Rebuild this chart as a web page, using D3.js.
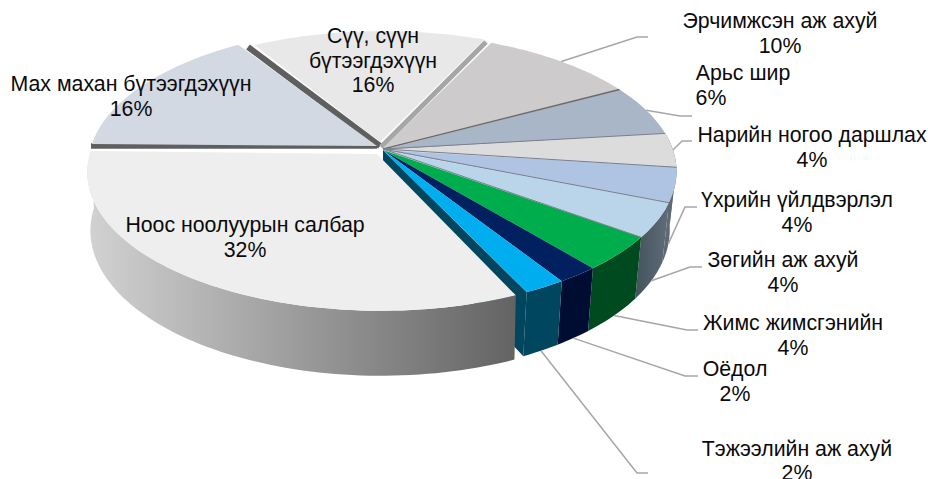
<!DOCTYPE html>
<html>
<head>
<meta charset="utf-8">
<script src="https://cdn.jsdelivr.net/npm/d3@7"></script>
<style>
  html, body { margin: 0; background: #fff; }
  svg { display: block; }
  text { font-family: "Liberation Sans", Arial, sans-serif; font-size: 21.3px; fill: #0a0a0a; }
</style>
</head>
<body>
<div id="chart"></div>
<script>
// slices clockwise, starting with the big wool slice
const categories = ["Ноос ноолуурын салбар", "Мах махан бүтээгдэхүүн", "Сүү, сүүн бүтээгдэхүүн",
  "Эрчимжсэн аж ахуй", "Арьс шир", "Нарийн ногоо даршлах", "Үхрийн үйлдвэрлэл",
  "Зөгийн аж ахуй", "Жимс жимсгэнийн", "Оёдол", "Тэжээлийн аж ахуй"];
const values = [32, 16, 16, 10, 6, 4, 4, 4, 4, 2, 2];

const topColors = ["#eeeeee", "#d2d9e3", "#e8e8e8", "#cdcbcb", "#a9b6c8", "#dcdcdc", "#afc3e2", "#bad5ea", "#00ad4d", "#00205f", "#00aeef"];
const wallColors = ["url(#woolWall)", "#555", "#555", "#555", "#555", "#5d6a76", "#5d6a76", "url(#beeWall)", "#004a20", "#000d33", "#00465f"];

// exploded slices: [rim dx, rim dy, apex dx, apex dy, trim at start deg, trim at end deg]
const explode = [
  [-2, 1, -6, 4, 1.7, 0],
  [-1, -6, -6, -4, 0, 1.6],
  [0, -2, -3, -8, 2.2, 1.7],
  [0, 0, 0, -2, 0, 0],
  [0, 0, 0, 0, 0, 0], [0, 0, 0, 0, 0, 0], [0, 0, 0, 0, 0, 0], [0, 0, 0, 0, 0, 0],
  [0, 0, 0, 0, 0, 0], [0, 0, 0, 0, 0, 0], [0, 0, 0, 0, 0, 0]
];

// label text lines, anchor x, first baseline
const labelLines = [
  ["Ноос ноолуурын салбар", "32%"], ["Мах махан бүтээгдэхүүн", "16%"], ["Сүү, сүүн", "бүтээгдэхүүн", "16%"],
  ["Эрчимжсэн аж ахуй", "10%"], ["Арьс шир", "6%"], ["Нарийн ногоо даршлах", "4%"], ["Үхрийн үйлдвэрлэл", "4%"],
  ["Зөгийн аж ахуй", "4%"], ["Жимс жимсгэнийн", "4%"], ["Оёдол", "2%"], ["Тэжээлийн аж ахуй", "2%"]
];
const labelX = [245, 131, 373, 780, 743, 812, 797, 783, 793, 735, 797];
const labelY = [232, 91, 43, 28, 80, 142, 207, 267, 330, 376, 455.5];
const elbows = [null, null, null, [[637, 37], [648, 37]], [[680, 116], [692, 116]], [[682, 141], [692, 141]],
  [[685, 207], [697, 207]], [[690, 267], [702, 267]], [[687, 330], [698, 330]], [[685, 376], [698, 376]], [[637, 473], [648, 473]]];

const width = 928, height = 479;
const cx = 383, cy = 150, rx = 290, ry = 135, persp = 0.155;

const svg = d3.select("#chart").append("svg")
    .attr("width", width)
    .attr("height", height);

const defs = svg.append("defs");
function gradient(id, x1, x2, c1, c2) {
  const g = defs.append("linearGradient").attr("id", id)
      .attr("gradientUnits", "userSpaceOnUse")
      .attr("x1", x1).attr("x2", x2).attr("y1", 0).attr("y2", 0);
  g.append("stop").attr("offset", 0).attr("stop-color", c1);
  g.append("stop").attr("offset", 1).attr("stop-color", c2);
}
gradient("woolWall", 87, 517, "#d2d2d2", "#636363");
gradient("beeWall", 637, 668, "#46545e", "#5f6c78");

// angle in radians clockwise from the top -> screen offset from centre, with perspective
function rim(a) {
  const u = Math.sin(a), v = -Math.cos(a);
  const s = 1 / (1 - persp * v);
  return [rx * u * s, ry * v * s];
}
function bottomOf(p, k = 0.977) {
  return [p[0] * k, p[1] * 1.05 + 57];
}

const pie = d3.pie().sort(null).value(d => d)
    .startAngle(154.8 * Math.PI / 180)
    .endAngle((154.8 + 360) * Math.PI / 180);
const arcs = pie(values);

const line = d3.line();

function rimPoints(d, i) {
  const e = explode[i];
  const a0 = d.startAngle + e[4] * Math.PI / 180, a1 = d.endAngle - e[5] * Math.PI / 180;
  const steps = Math.max(4, Math.ceil((a1 - a0) * 40));
  return d3.range(steps + 1).map(k => rim(a0 + (a1 - a0) * k / steps));
}

const pie3d = svg.append("g");

// cut face of the feed slice, seen because the wool slice is pulled away
const feedStart = rim(arcs[10].endAngle);
const feedBottom = bottomOf(feedStart);
pie3d.append("path")
    .attr("d", line([[cx, cy], [cx + feedStart[0], cy + feedStart[1]], [cx + feedBottom[0], cy + feedBottom[1]], [cx, cy + 57]]) + "Z")
    .attr("fill", wallColors[10]);

// outer walls, only the front ones can be seen
const wallOrder = [5, 6, 7, 8, 9, 10, 0];
wallOrder.forEach(i => {
  const e = explode[i];
  const k = i === 0 ? 0.99 : 0.977;
  const pts = rimPoints(arcs[i], i);
  const top = pts.map(p => [cx + e[0] + p[0], cy + e[1] + p[1]]);
  const bot = pts.map(p => { const b = bottomOf(p, k); return [cx + e[0] + b[0], cy + e[1] + b[1]]; }).reverse();
  pie3d.append("path")
      .attr("d", line(top.concat(bot)) + "Z")
      .attr("fill", wallColors[i]);
});

// bands between the pulled out slices
const bands = [
  { color: "#5f5f5f", w: 5.5, from: [377, 146], to: [91, 146] },
  { color: "#5f5f5f", w: 6, from: [380, 146], to: [248, 47] },
  { color: "#a6a6a6", w: 5, from: [381, 147], to: [486, 42] }
];
pie3d.selectAll("line.band")
  .data(bands)
  .join("line")
    .attr("x1", d => d.from[0]).attr("y1", d => d.from[1])
    .attr("x2", d => d.to[0]).attr("y2", d => d.to[1])
    .attr("stroke", d => d.color)
    .attr("stroke-width", d => d.w);

// top faces
arcs.forEach((d, i) => {
  const e = explode[i];
  const pts = rimPoints(d, i).map(p => [cx + e[0] + p[0], cy + e[1] + p[1]]);
  pie3d.append("path")
      .attr("d", line([[cx + e[2], cy + e[3]]].concat(pts)) + "Z")
      .attr("fill", topColors[i]);
});

// thin separators between the small slices
d3.range(3, 8).forEach(i => {
  const p = rim(arcs[i].endAngle);
  pie3d.append("line")
      .attr("x1", cx).attr("y1", cy - 1)
      .attr("x2", cx + p[0]).attr("y2", cy + p[1])
      .attr("stroke", i === 3 ? "#6b6b6b" : "#7a7f88")
      .attr("stroke-width", i === 3 ? 1.6 : 1);
});

// leader lines
const leaders = svg.append("g").attr("fill", "none").attr("stroke", "#a6a6a6").attr("stroke-width", 1.5);
elbows.forEach((el, i) => {
  if (!el) return;
  const mid = rim((arcs[i].startAngle + arcs[i].endAngle) / 2);
  const p = i >= 6 ? bottomOf(mid) : mid;
  leaders.append("path").attr("d", line([[cx + p[0], cy + p[1]]].concat(el)));
});

// labels
const lineStep = 24.5;
labelLines.forEach((lines, i) => {
  const t = svg.append("text").attr("text-anchor", "middle");
  lines.forEach((s, k) => {
    t.append("tspan")
        .attr("x", i === 4 && k === 1 ? 711 : labelX[i])
        .attr("y", labelY[i] + k * lineStep)
        .text(s);
  });
});
</script>
</body>
</html>
